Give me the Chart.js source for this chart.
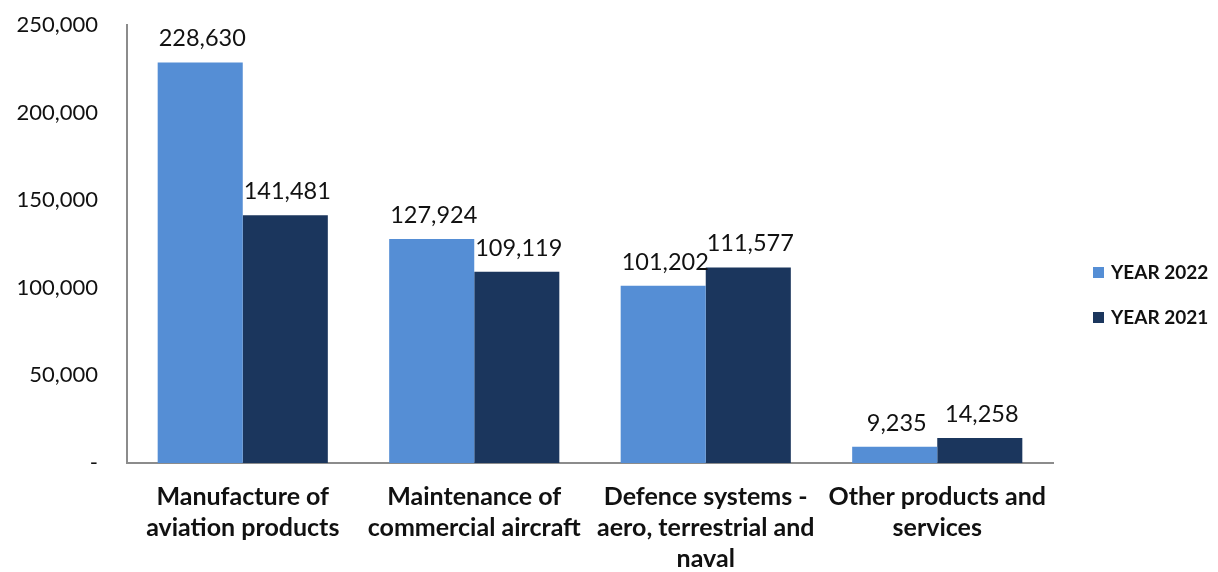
<!DOCTYPE html>
<html>
<head>
<meta charset="utf-8">
<script src="https://cdn.jsdelivr.net/npm/chart.js@4.4.0/dist/chart.umd.min.js"></script>
<style>
html,body{margin:0;padding:0;background:#fff;}
#wrap{width:1218px;height:572px;position:relative;}
</style>
</head>
<body>
<div id="wrap"><canvas id="c" width="1218" height="572"></canvas></div>
<script>
const categories = [
  ["Manufacture of", "aviation products"],
  ["Maintenance of", "commercial aircraft"],
  ["Defence systems -", "aero, terrestrial and", "naval"],
  ["Other products and", "services"]
];
const seriesNames = ["YEAR 2022", "YEAR 2021"];
const values2022 = [228630, 127924, 101202, 9235];
const values2021 = [141481, 109119, 111577, 14258];
const yTicks = [0, 50000, 100000, 150000, 200000, 250000];
const colors = ["#558ed5", "#1b365d"];

const FONT = "Lato, 'Open Sans', sans-serif";

const dataLabels = {
  id: 'dataLabels',
  afterDatasetsDraw(chart) {
    const ctx = chart.ctx;
    ctx.save();
    ctx.font = "400 23.5px " + FONT;
    ctx.fillStyle = "#111";
    ctx.textAlign = "center";
    ctx.textBaseline = "bottom";
    chart.data.datasets.forEach((ds, di) => {
      const meta = chart.getDatasetMeta(di);
      meta.data.forEach((el, i) => {
        ctx.fillText(ds.data[i].toLocaleString('en-US'), el.x + 2, el.y - 12);
      });
    });
    ctx.restore();
  }
};

const customLegend = {
  id: 'customLegend',
  afterDraw(chart) {
    const ctx = chart.ctx;
    ctx.save();
    ctx.font = "700 19px " + FONT;
    ctx.textBaseline = "middle";
    ctx.textAlign = "left";
    const x0 = chart.chartArea.right + 40;
    const ys = [273, 318];
    chart.data.datasets.forEach((ds, i) => {
      ctx.fillStyle = ds.backgroundColor;
      ctx.fillRect(x0, ys[i] - 6, 11, 11);
      ctx.fillStyle = "#111";
      ctx.fillText(ds.label, x0 + 18, ys[i]);
    });
    ctx.restore();
  }
};

new Chart(document.getElementById('c'), {
  type: 'bar',
  data: {
    labels: categories,
    datasets: [
      { label: seriesNames[0], data: values2022, backgroundColor: colors[0], barPercentage: 1, categoryPercentage: 0.735 },
      { label: seriesNames[1], data: values2021, backgroundColor: colors[1], barPercentage: 1, categoryPercentage: 0.735 }
    ]
  },
  options: {
    responsive: false,
    animation: false,
    layout: { padding: { top: 25, right: 165, left: 0, bottom: 0 } },
    plugins: { legend: { display: false }, tooltip: { enabled: false } },
    scales: {
      x: {
        grid: { display: false, drawTicks: false },
        border: { display: true, color: '#8c8c8c', width: 2 },
        ticks: {
          color: '#111',
          font: { family: FONT, size: 25, weight: '700', lineHeight: 1.25 },
          padding: 18,
          maxRotation: 0,
          autoSkip: false
        },
        afterFit(scale) { scale.height = 109; scale.paddingLeft = 0; scale.paddingRight = 0; }
      },
      y: {
        min: 0,
        max: 250000,
        grid: { display: false, drawTicks: false },
        border: { display: true, color: '#8c8c8c', width: 2 },
        afterBuildTicks(scale) { scale.ticks = yTicks.map(v => ({ value: v })); },
        ticks: {
          color: '#111',
          font: { family: FONT, size: 22, weight: '400' },
          padding: 29,
          callback: v => v === 0 ? '-' : v.toLocaleString('en-US')
        },
        afterFit(scale) { scale.width = 127; scale.paddingTop = 0; scale.paddingBottom = 0; }
      }
    }
  },
  plugins: [dataLabels, customLegend]
});
</script>
</body>
</html>
